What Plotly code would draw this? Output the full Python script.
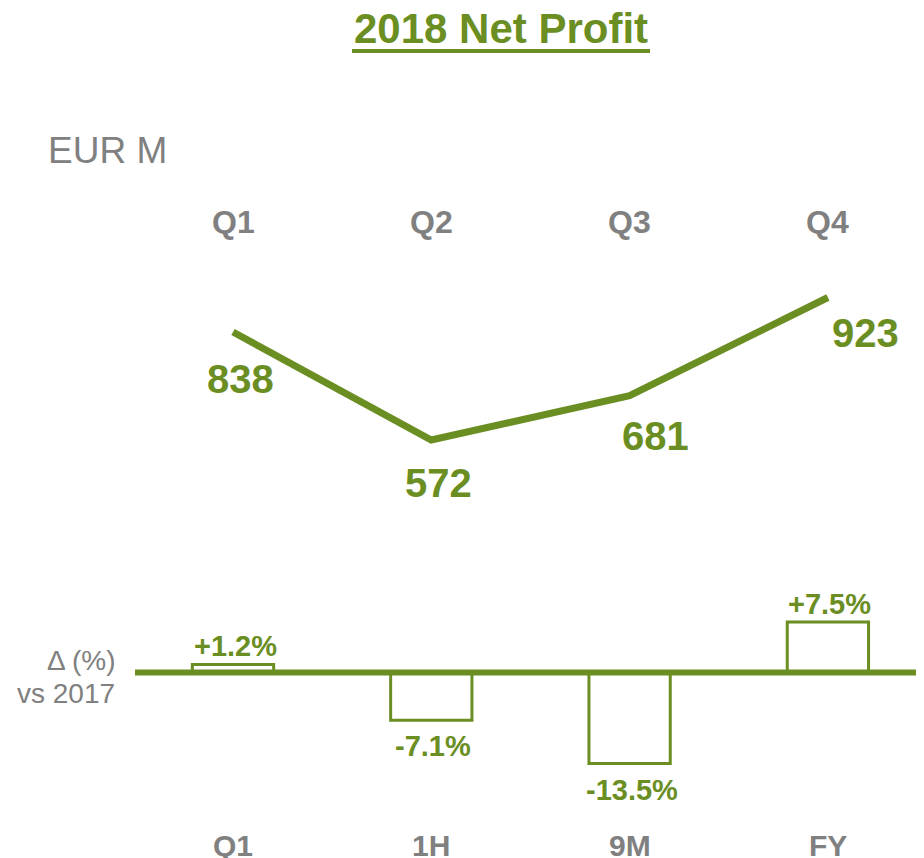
import plotly.graph_objects as go

GREEN = "#6B8E23"
GREY = "#808080"
FONT = "Arial, Liberation Sans, sans-serif"

# data
quarters = ["Q1", "Q2", "Q3", "Q4"]
net_profit = [838, 572, 681, 923]
periods = ["Q1", "1H", "9M", "FY"]
delta_pct = [1.2, -7.1, -13.5, 7.5]
delta_text = ["+1.2%", "-7.1%", "-13.5%", "+7.5%"]

# page has an 8px body margin; the figure starts at (8, 8)
OFF = 8
W, H = 924 - OFF, 858 - OFF
pos = list(range(len(quarters)))

# calibration of the canvas in reference pixels (plot area = whole figure)
X0_PX, STEP_PX = 233, 198.3
x_range = [-(X0_PX - OFF) / STEP_PX, (W - (X0_PX - OFF)) / STEP_PX]


def y_range(anchor_val, anchor_px, px_per_unit):
    a = anchor_px - OFF
    return [anchor_val - (H - a) / px_per_unit, anchor_val + a / px_per_unit]


y1_range = y_range(838, 332, 108 / 266)
y2_range = y_range(0, 672.5, 91 / 13.5)


def py(px):
    return 1 - (px - OFF) / H


def px_x(px):
    return (px - OFF) / W


fig = go.Figure()

fig.add_trace(go.Bar(
    x=pos, y=delta_pct, yaxis="y2", width=0.41,
    marker=dict(color="rgba(255,255,255,0)", line=dict(color=GREEN, width=3)),
    hoverinfo="skip",
))

fig.add_trace(go.Scatter(
    x=pos, y=net_profit, mode="lines",
    line=dict(color=GREEN, width=7),
    hoverinfo="skip",
))

annotations = []

annotations.append(dict(
    x=px_x(501), y=py(29), xref="paper", yref="paper",
    xanchor="center", yanchor="middle",
    text="<b>2018 Net Profit</b>", showarrow=False,
    font=dict(size=42, color=GREEN, family=FONT),
))
annotations.append(dict(
    x=px_x(46), y=py(151), xref="paper", yref="paper",
    xanchor="left", yanchor="middle",
    text="EUR M", showarrow=False,
    font=dict(size=37, color=GREY, family=FONT),
))

for i, q in enumerate(quarters):
    annotations.append(dict(
        x=i, y=py(222), xref="x", yref="paper", yanchor="middle",
        text=f"<b>{q}</b>",
        showarrow=False, font=dict(size=32, color=GREY, family=FONT),
    ))

for i, p in enumerate(periods):
    annotations.append(dict(
        x=i, y=py(845), xref="x", yref="paper", yanchor="middle",
        text=f"<b>{p}</b>",
        showarrow=False, font=dict(size=30, color=GREY, family=FONT),
    ))

# value label offsets relative to the line points (px)
label_offsets = [(7, -47), (7, -43), (26, -40), (38, -36)]
for i, v in enumerate(net_profit):
    dx, dy = label_offsets[i]
    annotations.append(dict(
        x=i, y=v, xref="x", yref="y", text=f"<b>{v}</b>",
        xshift=dx, yshift=dy, showarrow=False,
        font=dict(size=40, color=GREEN, family=FONT),
    ))

for i, d in enumerate(delta_pct):
    annotations.append(dict(
        x=i, y=d, xref="x", yref="y2", text=f"<b>{delta_text[i]}</b>",
        xshift=2, yshift=18 if d > 0 else -26, showarrow=False,
        font=dict(size=29, color=GREEN, family=FONT),
    ))

annotations.append(dict(
    x=px_x(117), y=py(660), xref="paper", yref="paper",
    xanchor="right", yanchor="middle",
    text="Δ (%)", showarrow=False, font=dict(size=28, color=GREY, family=FONT),
))
annotations.append(dict(
    x=px_x(117), y=py(693), xref="paper", yref="paper",
    xanchor="right", yanchor="middle",
    text="vs 2017", showarrow=False, font=dict(size=28, color=GREY, family=FONT),
))

shapes = [
    # zero line of the change chart
    dict(type="line", xref="paper", yref="y2", x0=px_x(135), x1=1, y0=0, y1=0,
         line=dict(color=GREEN, width=6), layer="above"),
    # title underline
    dict(type="line", xref="paper", yref="paper", x0=px_x(352), x1=px_x(650),
         y0=py(51), y1=py(51), line=dict(color=GREEN, width=4)),
]

fig.update_layout(
    width=W, height=H,
    margin=dict(l=0, r=0, t=0, b=0),
    plot_bgcolor="white", paper_bgcolor="white",
    showlegend=False,
    xaxis=dict(range=x_range, visible=False, fixedrange=True),
    yaxis=dict(range=y1_range, visible=False, domain=[0, 1], fixedrange=True),
    yaxis2=dict(range=y2_range, visible=False, overlaying="y", fixedrange=True),
    annotations=annotations,
    shapes=shapes,
)

fig.write_html("out.html", config={"displayModeBar": False})
